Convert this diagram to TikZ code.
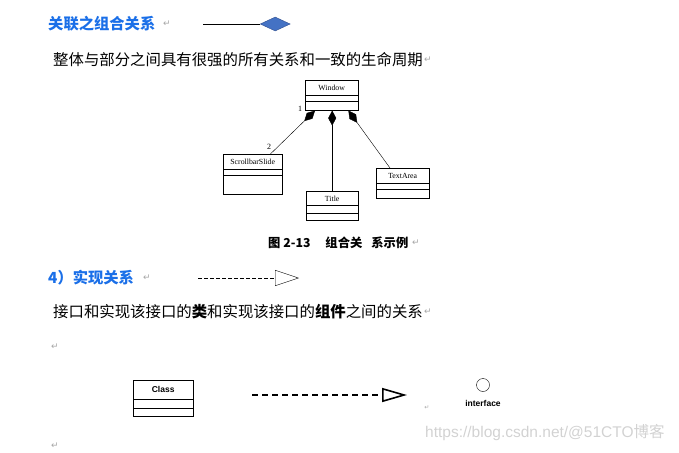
\documentclass[tikz,border=0pt]{standalone}
\usepackage{fontspec}
\setmainfont{Liberation Sans}
\newfontfamily\cjk{Noto Sans CJK SC}
\newfontfamily\umlfont{Liberation Serif}
\newfontfamily\symfont{DejaVu Sans}
\usetikzlibrary{shapes,arrows.meta}
\definecolor{headblue}{HTML}{1A6FE8}
\definecolor{diafill}{HTML}{4472C4}
\definecolor{diadraw}{HTML}{2F4F8F}

\begin{document}
\begin{tikzpicture}[x=1pt,y=-1pt]
        \tikzstyle{umlclass}=[rectangle split, rectangle split parts=3, draw, inner xsep=0pt, inner ysep=0pt, align=center, anchor=north west, font=\umlfont\fontsize{7.8}{8}\selectfont]
        \tikzstyle{headline}=[anchor=west, inner sep=0pt, text=headblue, font=\cjk\bfseries\fontsize{15.3}{17}\selectfont]
        \tikzstyle{bodyline}=[anchor=west, inner sep=0pt, font=\cjk\fontsize{15.4}{17}\selectfont]
        \tikzstyle{retmark}=[inner sep=0pt, text=gray!70, font=\symfont\fontsize{9}{10}\selectfont]
        \tikzstyle{multlabel}=[inner sep=0pt, font=\umlfont\fontsize{8}{9}\selectfont]
        \tikzstyle{compose}=[-{Diamond[length=15pt,width=8pt]}]
        \useasboundingbox (0,0) rectangle (679,452);

        \node[headline] (head1) at (48,24) {关联之组合关系};
        \node[retmark] (ret1) at (167,24) {↵};
        \coordinate (legend1) at (203,24);
        \node[diamond, fill=diafill, draw=diadraw, minimum width=30pt, minimum height=14pt, inner sep=0pt, anchor=west] (dia) at (260,24) {};
        \draw (legend1) -- (dia.west);
        \node[bodyline] (body1) at (53,60) {整体与部分之间具有很强的所有关系和一致的生命周期};
        \node[retmark] (ret2) at (428,60) {↵};

        \node[umlclass, text width=53pt] (window) at (305,80) {\rule[-4.5pt]{0pt}{15pt}Window \nodepart{two}\rule{0pt}{5pt}\nodepart{three}\rule{0pt}{9pt}};
        \node[umlclass, text width=59pt] (scroll) at (223,154) {\rule[-4.5pt]{0pt}{15pt}ScrollbarSlide \nodepart{two}\rule{0pt}{5pt}\nodepart{three}\rule{0pt}{19pt}};
        \node[umlclass, text width=52pt] (title) at (306,191) {\rule[-4pt]{0pt}{14pt}Title \nodepart{two}\rule{0pt}{7pt}\nodepart{three}\rule{0pt}{7pt}};
        \node[umlclass, text width=53pt] (textarea) at (376,168) {\rule[-4.5pt]{0pt}{15pt}TextArea \nodepart{two}\rule{0pt}{5pt}\nodepart{three}\rule{0pt}{9pt}};
        \draw[compose] ([xshift=-12pt]scroll.north east) -- ([xshift=10pt]window.south west);
        \draw[compose] (title.north) -- (title.north |- window.south);
        \draw[compose] ([xshift=14pt]textarea.north west) -- ([xshift=-10pt]window.south east);
        \node[multlabel] (m1) at (300,109) {1};
        \node[multlabel] (m2) at (269,147) {2};

        \node[anchor=west, inner sep=0pt, font=\cjk\bfseries\fontsize{12.3}{14}\selectfont] (caption) at (268,243) {图 2-13\hspace{15pt}组合关\hspace{9pt}系示例};
        \node[retmark] (ret3) at (416,243) {↵};

        \node[headline] (head2) at (48,278) {4）实现关系};
        \node[retmark] (ret4) at (147,278) {↵};
        \coordinate (legend2a) at (198,278);
        \coordinate (legend2b) at (299,278);
        \draw[dash pattern=on 4pt off 2pt, -{Triangle[open,length=24pt,width=16pt]}] (legend2a) -- (legend2b);
        \node[bodyline] (body2) at (53,312) {接口和实现该接口的{\bfseries 类}和实现该接口的{\bfseries 组件}之间的关系};
        \node[retmark] (ret5) at (428,312) {↵};
        \node[retmark] (ret6) at (55,347) {↵};

        \node[umlclass, text width=60pt, font=\bfseries\fontsize{8.5}{9}\selectfont] (class) at (133,380) {\rule[-7pt]{0pt}{19pt}Class\nodepart{two}\rule{0pt}{8pt}\nodepart{three}\rule{0pt}{8pt}};
        \coordinate (real1) at (252,395);
        \coordinate (real2) at (407,395);
        \draw[line width=1.6pt, dash pattern=on 6pt off 4pt, -{Triangle[open,length=25pt,width=14pt]}] (real1) -- (real2);
        \node[retmark, font=\symfont\fontsize{6}{7}\selectfont] (ret7) at (427,408) {↵};
        \node[circle, draw, minimum size=13pt, inner sep=0pt] (iface) at (483,385) {};
        \node[inner sep=0pt, font=\bfseries\fontsize{8.5}{9}\selectfont] (ifacelabel) at (483,403) {interface};
        \node[retmark] (ret8) at (55,446) {↵};

        \node[anchor=west, inner sep=0pt, text=gray!35, font=\fontsize{15.5}{17}\selectfont] (watermark) at (425,433) {https://blog.csdn.net/@51CTO{\cjk 博客}};
;\end{tikzpicture}
\end{document}
